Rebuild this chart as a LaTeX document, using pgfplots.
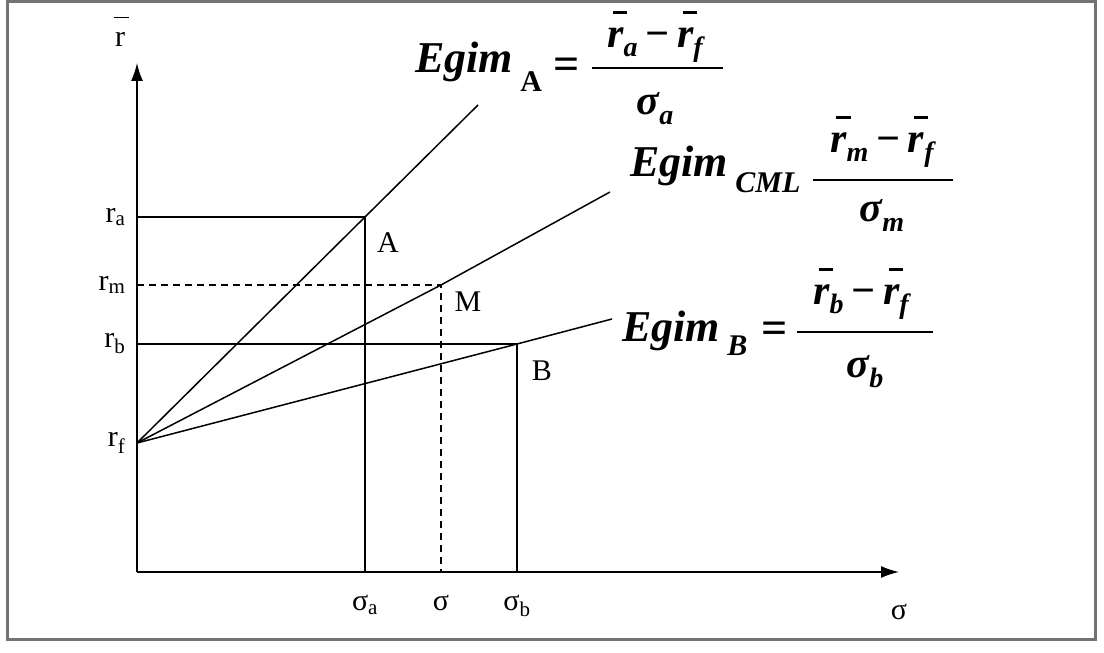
\documentclass[border=0pt]{standalone}
\usepackage{pgfplots}
\pgfplotsset{compat=1.18}
\usepackage{fontspec}
\setmainfont{Liberation Serif}
\usetikzlibrary{arrows.meta}
% r with a bar above it
\newcommand\rbar{\makebox[0pt][l]{\raisebox{0.8em}{\hspace{0.14em}\rule{0.34em}{0.07em}}}r}
\newcommand\rbarup{\makebox[0pt][l]{\raisebox{0.95em}{\hspace{-0.05em}\rule{0.5em}{0.06em}}}r}
\newcommand\sub[3][28]{\raisebox{-#2}{\fontsize{#1}{#1}\selectfont #3}}
\tikzset{
  egim/.style={anchor=base west, inner sep=0pt, font=\fontsize{44}{48}\selectfont\bfseries\itshape},
  frac/.style={anchor=base, inner sep=0pt, font=\fontsize{42}{44}\selectfont\bfseries\itshape},
  eqs/.style={inner sep=0pt, font=\fontsize{46}{48}\selectfont\bfseries},
  lbl/.style={font=\fontsize{30}{32}\selectfont},
}
\begin{document}
\begin{tikzpicture}
\begin{axis}[
  x=1pt, y=1pt,
  xmin=0, xmax=762, ymin=0, ymax=509,
  axis lines=left,
  axis line style={line width=1.5pt, -{Latex[length=18pt,width=12pt]}},
  clip=false,
  scale only axis,
  xtick={228,304,380},
  xticklabels={σ\textsubscript{a}, σ, σ\textsubscript{b}},
  ytick={129,228,287,355},
  yticklabels={r\textsubscript{f}, r\textsubscript{b}, r\textsubscript{m}, r\textsubscript{a}},
  major tick length=0pt,
  tick label style={font=\fontsize{30}{32}\selectfont},
  xticklabel style={yshift=-20pt},
  yticklabel style={xshift=-8pt},
]
% page and frame
\path (axis cs:-137,-81) rectangle (axis cs:967,572);
\draw[black!55, line width=3pt] (axis cs:-129,-68) rectangle (axis cs:958,570);
% lines from rf
\addplot[black, line width=1.5pt, mark=none] coordinates {(0,129) (228,355) (341,467)};
\addplot[black, line width=1.5pt, mark=none] coordinates {(0,129) (304,287) (473,380)};
\addplot[black, line width=1.5pt, mark=none] coordinates {(0,129) (380,228) (475,253)};
% A
\addplot[black, line width=1.5pt, mark=none] coordinates {(0,355) (228,355) (228,0)};
% M
\addplot[black, line width=1.5pt, mark=none, dash pattern=on 7pt off 5pt] coordinates {(0,287) (304,287) (304,0)};
% B
\addplot[black, line width=1.5pt, mark=none] coordinates {(0,228) (380,228) (380,0)};
% point labels
\node[lbl] at (axis cs:251,329) {A};
\node[lbl] at (axis cs:331,270) {M};
\node[lbl] at (axis cs:405,201) {B};
% axis labels
\node[lbl, anchor=base] at (axis cs:-17,525) {\rbarup};
\node[lbl] at (axis cs:762,-40) {σ};
% formula A
\node[egim] at (axis cs:278,499) {Egim\,\sub[30]{19pt}{\upshape A}};
\node[eqs] at (axis cs:430,503) {=};
\draw[black, line width=1.8pt] (axis cs:455,504) -- (axis cs:586,504);
\node[frac] at (axis cs:518,524) {\rbar\sub{9pt}{a}\,−\,\rbar\sub{9pt}{f}};
\node[frac] at (axis cs:518,457) {σ\sub{10pt}{a}};
% formula CML
\node[egim] at (axis cs:493,395) {Egim\,\sub[30]{16pt}{CML}};
\draw[black, line width=1.8pt] (axis cs:676,392) -- (axis cs:816,392);
\node[frac] at (axis cs:745,419) {\rbar\sub{9pt}{m}\,−\,\rbar\sub{9pt}{f}};
\node[frac] at (axis cs:745,350) {σ\sub{10pt}{m}};
% formula B
\node[egim] at (axis cs:485,230) {Egim\,\sub[30]{14pt}{B}};
\node[eqs] at (axis cs:638,239) {=};
\draw[black, line width=1.8pt] (axis cs:660,240) -- (axis cs:796,240);
\node[frac] at (axis cs:724,267) {\rbar\sub{9pt}{b}\,−\,\rbar\sub{9pt}{f}};
\node[frac] at (axis cs:728,194) {σ\sub{10pt}{b}};
\end{axis}
\end{tikzpicture}
\end{document}
